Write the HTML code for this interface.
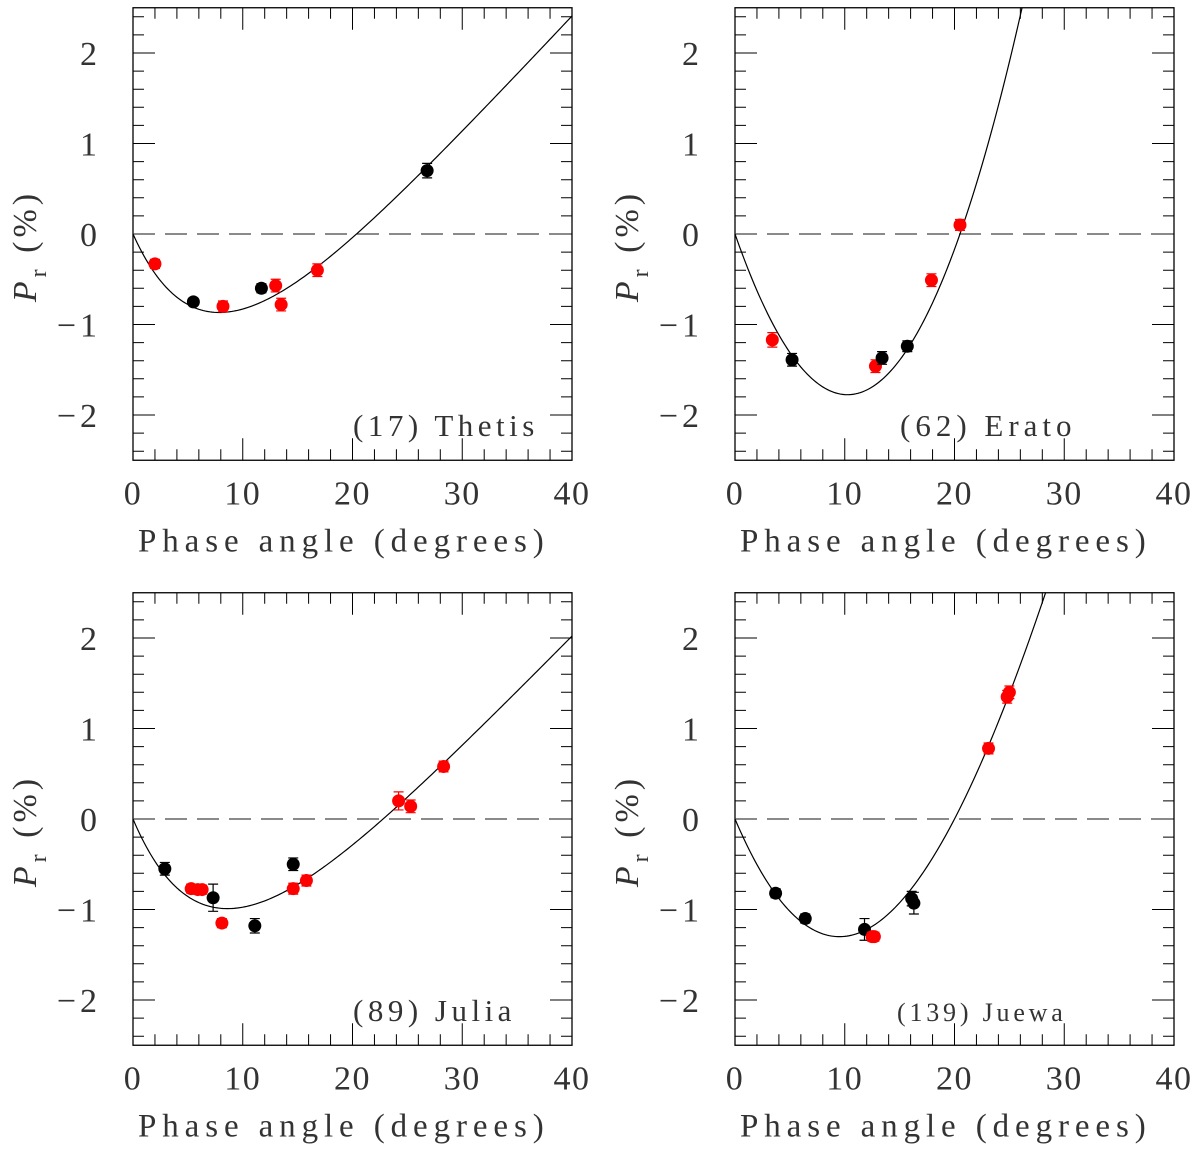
<!DOCTYPE html>
<html><head><meta charset="utf-8"><style>
html,body{margin:0;padding:0;background:#fff;}
svg{display:block;font-family:"Liberation Serif",serif;}
</style></head><body>
<svg id="chart" width="1200" height="1152" viewBox="0 0 1200 1152" xmlns="http://www.w3.org/2000/svg"></svg>
<script>
// Panel names
const panelNames = ["(17) Thetis", "(62) Erato", "(89) Julia", "(139) Juewa"];
// Curve model: P = A*(exp(-a/B)-1) + C*a + a*(a - z)*(p + q*a)
const curveA = [2.8, 0, 2.95, 0];
const curveB = [7, 1, 7.2, 1];
const curveC = [0.13, 0, 0.124, 0];
const curveZero = [0, 20.5, 0, 20];
const curveP = [0, 0.0169, 0, 0.01424];
const curveQ = [0, 0, 0, -0.000127];
// Data points: phase angle, Pr, colour (r = red, k = black), error
const thetisAlpha = [2, 5.5, 8.2, 11.7, 13, 13.5, 16.8, 26.8];
const thetisPr = [-0.33, -0.75, -0.8, -0.6, -0.57, -0.78, -0.4, 0.7];
const thetisCol = ["r","k","r","k","r","r","r","k"];
const thetisErr = [0.05, 0.04, 0.06, 0.05, 0.07, 0.07, 0.07, 0.08];
const eratoAlpha = [3.4, 5.2, 12.8, 13.4, 15.7, 17.9, 20.5];
const eratoPr = [-1.17, -1.39, -1.46, -1.37, -1.24, -0.51, 0.1];
const eratoCol = ["r","k","r","k","k","r","r"];
const eratoErr = [0.08, 0.07, 0.07, 0.07, 0.06, 0.07, 0.06];
const juliaAlpha = [2.9, 5.3, 5.9, 6.3, 7.3, 8.1, 11.1, 14.6, 14.6, 15.8, 24.2, 25.3, 28.3];
const juliaPr = [-0.55, -0.77, -0.78, -0.78, -0.87, -1.15, -1.18, -0.5, -0.77, -0.68, 0.2, 0.14, 0.58];
const juliaCol = ["k","r","r","r","k","r","k","k","r","r","r","r","r"];
const juliaErr = [0.07, 0.05, 0.05, 0.05, 0.15, 0.05, 0.08, 0.07, 0.06, 0.06, 0.1, 0.07, 0.06];
const juewaAlpha = [3.7, 6.4, 11.8, 12.5, 12.7, 16.1, 16.3, 23.1, 24.8, 25];
const juewaPr = [-0.82, -1.1, -1.22, -1.3, -1.3, -0.88, -0.93, 0.78, 1.35, 1.4];
const juewaCol = ["k","k","k","r","r","k","k","r","r","r"];
const juewaErr = [0.05, 0.05, 0.12, 0.05, 0.05, 0.08, 0.12, 0.06, 0.07, 0.07];
const xTicks = [0, 10, 20, 30, 40];
const yTicks = [-2, -1, 0, 1, 2];

const allAlpha = [thetisAlpha, eratoAlpha, juliaAlpha, juewaAlpha];
const allPr = [thetisPr, eratoPr, juliaPr, juewaPr];
const allCol = [thetisCol, eratoCol, juliaCol, juewaCol];
const allErr = [thetisErr, eratoErr, juliaErr, juewaErr];

const NS = "http://www.w3.org/2000/svg";
const svg = document.getElementById("chart");
function mk(tag, attrs, parent){const e=document.createElementNS(NS,tag);for(const k in attrs)e.setAttribute(k,attrs[k]);(parent||svg).appendChild(e);return e;}

const offsets = [[0,0],[602,0],[0,585],[602,585]];
const labelOffsets = [220, 165, 220, 162];
const slugs = ["thetis","erato","julia","juewa"];
for(let p=0;p<4;p++){
  const ox=offsets[p][0], oy=offsets[p][1];
  const X0=133+ox, X1=572+ox, yZero=234+oy, ys=90.5;
  const xs=(X1-X0)/40;
  const sx=a=>X0+a*xs, sy=v=>yZero-v*ys;
  const Ytop=sy(2.5), Ybot=sy(-2.5);
  const g=mk("g",{});
  
  
  const clip=mk("clipPath",{id:"clip"+p},g);
  mk("rect",{x:X0,y:Ytop,width:X1-X0,height:Ybot-Ytop},clip);
  const frame=mk("rect",{x:X0,y:Ytop,width:X1-X0,height:Ybot-Ytop,fill:"none",stroke:"#000","stroke-width":1.3},g);
  
  
  let td="";
  for(let a=0;a<=40;a+=2){const L=(a%10===0)?22:11;const x=sx(a);td+=`M${x},${Ybot}v${-L}M${x},${Ytop}v${L}`;}
  for(let i=-12;i<=12;i++){const v=i/5;const L=(i%5===0)?22:11;const y=sy(v);td+=`M${X0},${y}h${L}M${X1},${y}h${-L}`;}
  const ticks=mk("path",{d:td,stroke:"#000","stroke-width":1,fill:"none"},g);
  
  
  xTicks.forEach(t=>{const tx=mk("text",{x:sx(t),y:Ybot+44,"text-anchor":"middle","font-size":34,"letter-spacing":"1.5",fill:"#333"},g);tx.textContent=t;
    
    });
  yTicks.forEach(t=>{const tx=mk("text",{x:X0-32,y:sy(t)+12,"text-anchor":"end","font-size":34,"letter-spacing":"4",fill:"#333"},g);tx.textContent=(t<0?"\u2212":"")+Math.abs(t);
    
    });
  const xl=mk("text",{x:X0+5,y:Ybot+91,"text-anchor":"start","font-size":33,"letter-spacing":"5.9",fill:"#333"},g);
  xl.textContent="Phase angle (degrees)";
  
  
  const yl=mk("text",{transform:`translate(${X0-97},${yZero+12}) rotate(-90)`,"text-anchor":"middle","font-size":34,"letter-spacing":"4",fill:"#333"},g);
  yl.innerHTML='<tspan font-style="italic">P</tspan><tspan font-size="24" dy="10">r</tspan><tspan dy="-10"> (%)</tspan>';
  
  
  const nm=mk("text",{x:X0+labelOffsets[p],y:sy(-2.1)+12,"text-anchor":"start","font-size":p===3?26:31,"letter-spacing":p===3?"3.8":(p===1?"5":"4.5"),fill:"#333"},g);
  nm.textContent=panelNames[p];
  
  
  const zl=mk("line",{x1:X0,x2:X1,y1:sy(0),y2:sy(0),stroke:"#444","stroke-width":1.2,"stroke-dasharray":"22,10"},g);
  
  
  let cd="";
  for(let a=0;a<=40.001;a+=0.2){
    const v=curveA[p]*(Math.exp(-a/curveB[p])-1)+curveC[p]*a+a*(a-curveZero[p])*(curveP[p]+curveQ[p]*a);
    cd+=(a===0?"M":"L")+sx(a).toFixed(2)+","+sy(v).toFixed(2);}
  const cv=mk("path",{d:cd,fill:"none",stroke:"#000","stroke-width":1.2,"clip-path":`url(#clip${p})`},g);
  
  
  const A=allAlpha[p],P=allPr[p],C=allCol[p],E=allErr[p];
  for(let i=0;i<A.length;i++){
    const col=C[i]==="r"?"#ff0000":"#000";
    const x=sx(A[i]),y=sy(P[i]),e=E[i]*ys;
    const eb=mk("path",{d:`M${x},${y-e}V${y+e}M${x-5},${y-e}h10M${x-5},${y+e}h10`,stroke:col,"stroke-width":1.2,fill:"none"},g);
    
    
    const c=mk("circle",{cx:x,cy:y,r:6.5,fill:col},g);
    
    
  }
}
</script>
</body></html>
